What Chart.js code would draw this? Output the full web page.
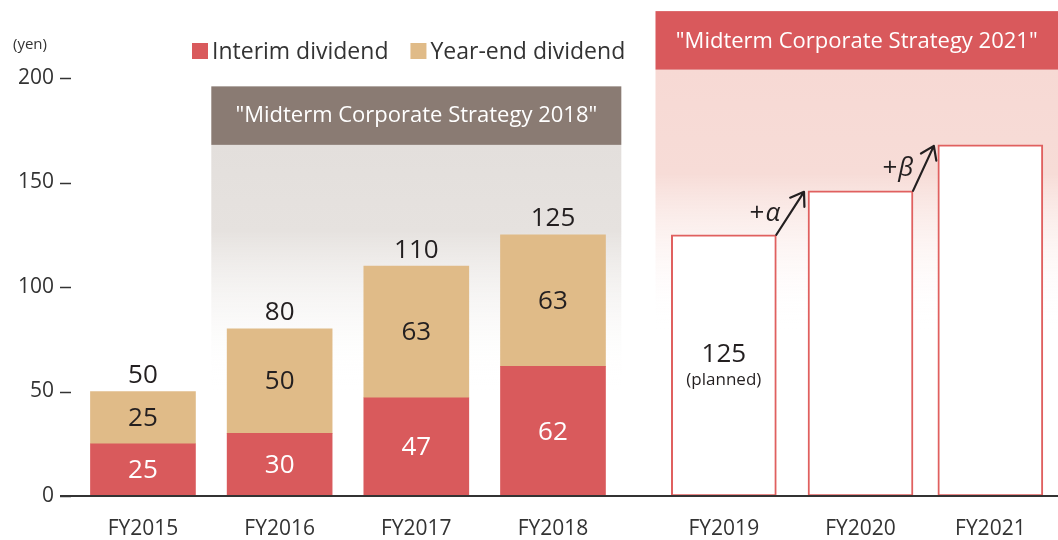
<!DOCTYPE html>
<html>
<head>
<meta charset="utf-8">
<title>Dividend</title>
<script src="https://cdn.jsdelivr.net/npm/chart.js@4"></script>
<style>
  body { margin: 0; background: #fff; }
  #wrap { width: 1058px; height: 540px; }
</style>
</head>
<body>
<div id="wrap"><canvas id="chart"></canvas></div>
<script>
// DATA
const years = ["FY2015", "FY2016", "FY2017", "FY2018", "FY2019", "FY2020", "FY2021"];
const interim = [25, 30, 47, 62, null, null, null];
const yearEnd = [25, 50, 63, 63, null, null, null];
const totals = [50, 80, 110, 125, null, null, null];
const planned = [null, null, null, null, 125, 146, 168];
const plannedNote = ["", "", "", "", "(planned)", "", ""];
const stepLabels = [["+", "α"], ["+", "β"]];
const yTicks = [0, 50, 100, 150, 200];
const strategies = ["\"Midterm Corporate Strategy 2018\"", "\"Midterm Corporate Strategy 2021\""];
const legendLabels = ["Interim dividend", "Year-end dividend"];

// x slot of each year on the axis (gap before the 2021 plan)
const slots = [0, 1, 2, 3, 4.25, 5.25, 6.2];

// COLOURS
const RED = "#d95a5c";
const TAN = "#e0bb88";
const DARK = "#231f20";
const FONT = "'Open Sans', 'Noto Sans', sans-serif";

const ctx = document.getElementById("chart").getContext("2d");

function pts(list) {
  return list.map((v, i) => ({ x: slots[i], y: v }));
}

// BACKGROUND BANDS + HEADERS
const bands = {
  id: "bands",
  beforeDatasetsDraw(chart) {
    const c = chart.ctx, x = chart.scales.x, y = chart.scales.y, area = chart.chartArea;

    // 2018 band
    let l = x.getPixelForValue(slots[1] - 0.5), r = x.getPixelForValue(slots[3] + 0.5);
    let top = y.getPixelForValue(196), bot = y.getPixelForValue(168);
    let g = c.createLinearGradient(0, bot, 0, bot + 245);
    g.addColorStop(0, "#e3dfdc");
    g.addColorStop(0.35, "#e6e2df");
    g.addColorStop(1, "rgba(255,255,255,0)");
    c.save();
    c.fillStyle = g;
    c.fillRect(l, bot, r - l, 245);
    c.fillStyle = "#8a7b73";
    c.fillRect(l, top, r - l, bot - top);
    c.fillStyle = "#fff";
    c.font = "22px " + FONT;
    c.textAlign = "center";
    c.textBaseline = "middle";
    c.fillText(strategies[0], (l + r) / 2, (top + bot) / 2);

    // 2021 band
    l = x.getPixelForValue(slots[4] - 0.5); r = area.right;
    top = y.getPixelForValue(232); bot = y.getPixelForValue(204);
    g = c.createLinearGradient(0, bot, 0, bot + 260);
    g.addColorStop(0, "#f7d9d4");
    g.addColorStop(0.4, "#f7dcd7");
    g.addColorStop(1, "rgba(255,255,255,0)");
    c.fillStyle = g;
    c.fillRect(l, bot, r - l, 260);
    c.fillStyle = "#d9595c";
    c.fillRect(l, top, r - l, bot - top);
    c.fillStyle = "#fff";
    c.fillText(strategies[1], (l + r) / 2, (top + bot) / 2 + 1);
    c.restore();
  }
};

// LABELS, ARROWS, AXIS LINE, LEGEND
const labels = {
  id: "labels",
  afterDatasetsDraw(chart) {
    const c = chart.ctx, y = chart.scales.y, area = chart.chartArea;
    const m0 = chart.getDatasetMeta(0), m1 = chart.getDatasetMeta(1), m2 = chart.getDatasetMeta(2);
    c.save();
    c.textAlign = "center";
    c.textBaseline = "middle";
    c.font = "26px " + FONT;

    interim.forEach((v, i) => {
      if (v == null) return;
      const b = m0.data[i];
      c.fillStyle = "#fff";
      c.fillText(v, b.x, (b.y + b.base) / 2 + 1);
    });
    yearEnd.forEach((v, i) => {
      if (v == null) return;
      const b = m1.data[i];
      c.fillStyle = DARK;
      c.fillText(v, b.x, (b.y + b.base) / 2 + 1);
      c.fillText(totals[i], b.x, b.y - 16);
    });

    // planned bar text
    planned.forEach((v, i) => {
      if (v == null || !plannedNote[i]) return;
      const b = m2.data[i];
      const mid = (b.y + b.base) / 2;
      c.fillStyle = DARK;
      c.font = "26px " + FONT;
      c.fillText(v, b.x, mid - 11);
      c.font = "17px " + FONT;
      c.fillText(plannedNote[i], b.x, mid + 15);
    });

    // step arrows between planned bars
    c.strokeStyle = DARK;
    c.lineWidth = 2.2;
    c.lineCap = "round";
    c.lineJoin = "round";
    for (let i = 4; i < 6; i++) {
      const a = m2.data[i], b = m2.data[i + 1];
      const x1 = a.x + a.width / 2, y1 = a.y;
      const x2 = b.x - b.width / 2 - 4, y2 = b.y + 1;
      c.beginPath();
      c.moveTo(x1, y1);
      c.lineTo(x2, y2);
      const ang = Math.atan2(y2 - y1, x2 - x1);
      const hl = 15;
      c.moveTo(x2 - hl * Math.cos(ang - 0.6), y2 - hl * Math.sin(ang - 0.6));
      c.lineTo(x2, y2);
      c.lineTo(x2 - hl * Math.cos(ang + 0.6), y2 - hl * Math.sin(ang + 0.6));
      c.stroke();

      const lab = stepLabels[i - 4];
      const mx = (x1 + x2) / 2 - 10, my = (y1 + y2) / 2;
      c.fillStyle = DARK;
      c.textAlign = "right";
      c.font = "italic 26px " + FONT;
      const w = c.measureText(lab[1]).width;
      c.fillText(lab[1], mx, my);
      c.font = "26px " + FONT;
      c.fillText(lab[0], mx - w - 1, my);
      c.textAlign = "center";
    }

    // axis line and y tick dashes
    c.strokeStyle = "#333";
    c.lineCap = "butt";
    c.lineWidth = 1.5;
    yTicks.forEach(t => {
      const py = Math.round(y.getPixelForValue(t)) + 0.5;
      c.beginPath();
      c.moveTo(area.left, py);
      c.lineTo(area.left + 11, py);
      c.stroke();
    });
    c.lineWidth = 2;
    c.beginPath();
    c.moveTo(area.left, area.bottom);
    c.lineTo(area.right, area.bottom);
    c.stroke();

    // unit
    c.fillStyle = "#333";
    c.textAlign = "left";
    c.font = "15px " + FONT;
    c.fillText("(yen)", 13, 45);

    // legend
    c.font = "23px " + FONT;
    const legendColors = [RED, TAN];
    let lx = 192;
    legendLabels.forEach((t, i) => {
      c.fillStyle = legendColors[i];
      c.fillRect(lx, 43, 16, 16);
      c.fillStyle = "#333";
      c.fillText(t, lx + 20, 52);
      lx += 20 + c.measureText(t).width + 22;
    });
    c.restore();
  }
};

new Chart(ctx, {
  type: "bar",
  data: {
    datasets: [{
      label: legendLabels[0],
      data: pts(interim),
      backgroundColor: RED,
      borderWidth: 0
    }, {
      label: legendLabels[1],
      data: pts(yearEnd),
      backgroundColor: TAN,
      borderWidth: 0
    }, {
      label: "Planned",
      data: pts(planned),
      backgroundColor: "#fff",
      borderColor: "#e0605f",
      borderWidth: 2,
      borderSkipped: false
    }]
  },
  options: {
    responsive: true,
    maintainAspectRatio: false,
    animation: false,
    barThickness: 105,
    layout: { padding: { top: 78, left: 0, right: 0, bottom: 0 } },
    plugins: {
      legend: { display: false },
      tooltip: { enabled: false }
    },
    scales: {
      x: {
        type: "linear",
        stacked: true,
        offset: false,
        min: -0.607,
        max: 6.695,
        afterBuildTicks: scale => { scale.ticks = slots.map(v => ({ value: v })); },
        afterFit: scale => { scale.height = 44; },
        grid: { display: false, drawTicks: false },
        border: { display: false },
        ticks: {
          autoSkip: false,
          maxRotation: 0,
          padding: 20,
          color: "#333",
          font: { family: FONT, size: 21 },
          callback: v => years[slots.indexOf(v)]
        }
      },
      y: {
        stacked: true,
        min: 0,
        max: 200,
        afterBuildTicks: scale => { scale.ticks = yTicks.map(v => ({ value: v })); },
        afterFit: scale => { scale.width = 60; },
        grid: { display: false, drawTicks: false },
        border: { display: false },
        ticks: {
          padding: 6,
          color: "#333",
          font: { family: FONT, size: 21 }
        }
      }
    }
  },
  plugins: [bands, labels]
});
</script>
</body>
</html>
